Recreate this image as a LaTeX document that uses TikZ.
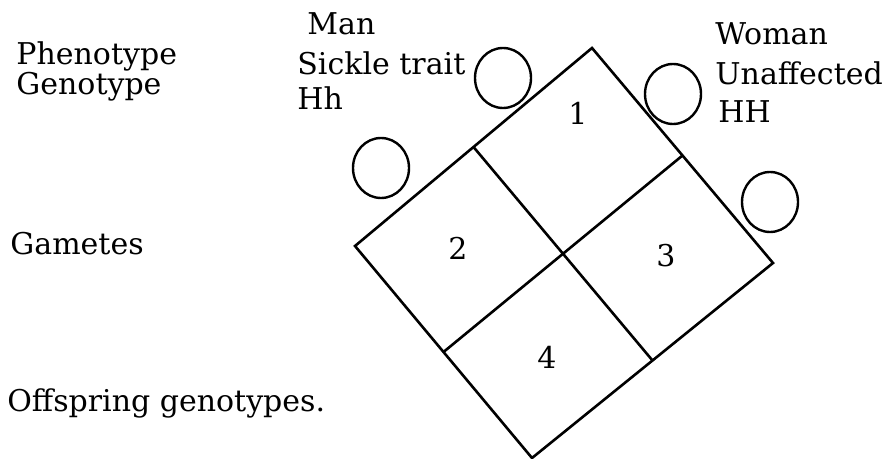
\documentclass[tikz,border=0pt]{standalone}
\usepackage{fontspec}
\setmainfont{DejaVu Serif}
\usetikzlibrary{calc,shapes.geometric}
\tikzset{
  txt/.style={anchor=base west, inner sep=0pt, font=\fontsize{15}{18}\selectfont},
  cellno/.style={inner sep=0pt, font=\fontsize{15}{18}\selectfont},
  gamete/.style={draw, ellipse, minimum width=28pt, minimum height=30pt, line width=1.2pt},
  gridln/.style={line width=1.3pt, line join=miter},
}

\begin{document}
\begin{tikzpicture}[x=0.5pt, y=-0.5pt]
    \useasboundingbox (0,0) rectangle (883,459);
    % row labels
    \node[txt] (pheno) at (16,65) {Phenotype};
    \node[txt] (geno) at (16,95) {Genotype};
    \node[txt] (gam) at (10,255) {Gametes};
    \node[txt] (offs) at (7,412) {Offspring genotypes.};
    % parents
    \node[txt] (man) at (307,35) {Man};
    \node[txt] (manph) at (297,75) {Sickle trait};
    \node[txt] (mangt) at (297,110) {Hh};
    \node[txt] (wom) at (715,45) {Woman};
    \node[txt] (womph) at (715,85) {Unaffected};
    \node[txt] (womgt) at (718,123) {HH};
    % gamete circles
    \node[gamete] (g1) at (503,78) {};
    \node[gamete] (g2) at (381,168) {};
    \node[gamete] (g3) at (673,94) {};
    \node[gamete] (g4) at (770,202) {};
    % punnett square, tilted
    \coordinate (top) at (592,48);
    \coordinate (rgt) at (773,263);
    \coordinate (bot) at (532,458);
    \coordinate (lft) at (355,246);
    \draw[gridln] (top) -- (rgt) -- (bot) -- (lft) -- cycle;
    \draw[gridln] ($(top)!0.5!(lft)$) -- ($(rgt)!0.5!(bot)$);
    \draw[gridln] ($(lft)!0.5!(bot)$) -- ($(top)!0.5!(rgt)$);
    \node[cellno] (c1) at (578,113) {1};
    \node[cellno] (c2) at (458,248) {2};
    \node[cellno] (c3) at (666,256) {3};
    \node[cellno] (c4) at (547,357) {4};
  \end{tikzpicture}
\end{document}
